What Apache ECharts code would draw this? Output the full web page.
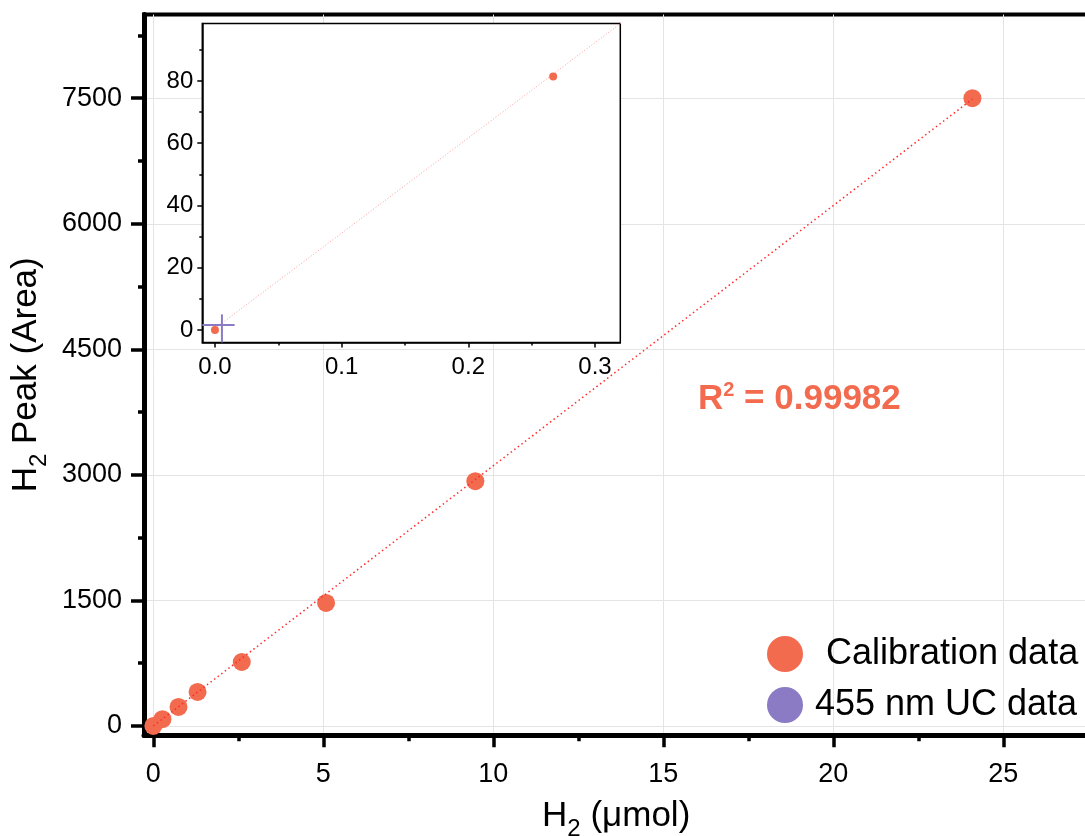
<!DOCTYPE html>
<html><head><meta charset="utf-8">
<script src="https://cdn.jsdelivr.net/npm/echarts@6/dist/echarts.min.js"></script>
<style>html,body{margin:0;padding:0;background:#fff}#c{width:1085px;height:836px}</style>
</head><body><div id="c"></div>
<script>
// ---- data ----
const calX = [0, 0.267, 0.74, 1.3, 2.6, 5.08, 9.47, 24.09];
const calY = [0, 81.4, 227, 406, 764, 1470, 2925, 7500];
const ucX = [0.0055];
const ucY = [1.6];
const ucXErrLow = [0.016], ucXErrHigh = [0.010];
const ucYErrLow = [6], ucYErrHigh = [3.4];
const fitMainX = [0, 24.09];
const fitMainY = [0, 7490];
const fitInsetX = [0, 0.33];
const fitInsetY = [0.5, 101.5];
const mainXTicks = [0, 5, 10, 15, 20, 25];
const mainXMinor = [2.5, 7.5, 12.5, 17.5, 22.5];
const mainYTicks = [0, 1500, 3000, 4500, 6000, 7500];
const mainYMinor = [750, 2250, 3750, 5250, 6750, 8250];
const insetXTicks = [0, 0.1, 0.2, 0.3];
const insetXMinor = [0.05, 0.15, 0.25];
const insetYTicks = [0, 20, 40, 60, 80];
const insetYMinor = [10, 30, 50, 70, 90];
const r2Value = '0.99982';
const legendNames = ['Calibration data', '455 nm UC data'];

const FONT = "'Liberation Sans', Arial, sans-serif";
const ORANGE = '#F36B4F';
const PURPLE = '#8A7BC4';

const pairs = (xs, ys) => xs.map((x, i) => [x, ys[i]]);

function majorAxis(grid, pos, min, max, ticks, opts) {
  return Object.assign({
    gridIndex: grid, type: 'value', position: pos, min: min, max: max,
    axisLine: { show: true, onZero: false, lineStyle: { color: '#000', width: opts.lw } },
    axisTick: { show: true, customValues: ticks, inside: false, length: opts.tl, lineStyle: { color: '#000', width: opts.tw } },
    axisLabel: { show: true, customValues: ticks, fontSize: opts.fs, color: '#000', fontFamily: FONT, margin: opts.margin,
      formatter: opts.fmt || (v => String(v)) },
    splitLine: { show: opts.grid, lineStyle: { color: '#e4e4e4', width: 1 } }
  }, opts.extra || {});
}
function minorAxis(grid, pos, min, max, ticks, opts) {
  return Object.assign({
    gridIndex: grid, type: 'value', position: pos, min: min, max: max,
    axisLine: { show: false, onZero: false },
    axisTick: { show: true, customValues: ticks, inside: false, length: opts.tl, lineStyle: { color: '#000', width: opts.tw } },
    axisLabel: { show: false },
    splitLine: { show: false }
  }, opts.extra || {});
}

const nameRich = {
  m: { fontSize: 35, lineHeight: 50, fontFamily: FONT, color: '#000' },
  s: { fontSize: 24, lineHeight: 24, verticalAlign: 'bottom', fontFamily: FONT, color: '#000' }
};

const chart = echarts.init(document.getElementById('c'), null, { renderer: 'canvas' });
const option = {
  animation: false,
  backgroundColor: '#fff',
  grid: [
    { left: 144, top: 14.5, width: 944.35, height: 720.66, show: true, borderColor: '#000', borderWidth: 4,
      backgroundColor: 'transparent', containLabel: false, outerBoundsMode: 'none' },
    { left: 202.3, top: 23.4, width: 418, height: 319, show: true, borderColor: '#000', borderWidth: 1.5,
      backgroundColor: '#fff', z: 5, containLabel: false, outerBoundsMode: 'none' }
  ],
  xAxis: [
    majorAxis(0, 'bottom', -0.275, 27.5, mainXTicks, { lw: 5, tl: 12, tw: 3.5, fs: 27, margin: 26, grid: true,
      extra: { name: '{m|H}{s|2}{m| (\u03bcmol)}', nameLocation: 'middle', nameGap: 56, nameTextStyle: { rich: nameRich } } }),
    minorAxis(0, 'bottom', -0.275, 27.5, mainXMinor, { tl: 6, tw: 3.5 }),
    majorAxis(1, 'bottom', -0.01, 0.32, insetXTicks, { lw: 1.5, tl: 5, tw: 1.5, fs: 24, margin: 13, grid: false,
      fmt: v => v.toFixed(1), extra: { z: 6 } }),
    minorAxis(1, 'bottom', -0.01, 0.32, insetXMinor, { tl: 3, tw: 1.5, extra: { z: 6 } })
  ],
  yAxis: [
    majorAxis(0, 'left', -110, 8500, mainYTicks, { lw: 5, tl: 13, tw: 3.5, fs: 27, margin: 22, grid: true,
      extra: { name: '{m|H}{s|2}{m| Peak (Area)}', nameLocation: 'middle', nameGap: 92, nameTextStyle: { rich: nameRich } } }),
    minorAxis(0, 'left', -110, 8500, mainYMinor, { tl: 6, tw: 3.5 }),
    majorAxis(1, 'left', -4, 98.5, insetYTicks, { lw: 1.5, tl: 5, tw: 1.5, fs: 24, margin: 9, grid: false, extra: { z: 6 } }),
    minorAxis(1, 'left', -4, 98.5, insetYMinor, { tl: 3, tw: 1.5, extra: { z: 6 } })
  ],
  legend: {
    data: legendNames, orient: 'vertical', left: 767, top: 636, padding: 0,
    itemWidth: 36, itemHeight: 36, itemGap: 15, icon: 'circle',
    textStyle: { fontSize: 36, lineHeight: 36, color: '#000', fontFamily: FONT,
      rich: {
        c: { fontSize: 36, lineHeight: 36, color: '#000', fontFamily: FONT, padding: [0, 0, 0, 18] },
        d: { fontSize: 36, lineHeight: 36, color: '#000', fontFamily: FONT, padding: [0, 0, 0, 7] }
      } },
    formatter: n => (n === legendNames[0] ? '{c|' : '{d|') + n + '}'
  },
  graphic: [{
    type: 'text', left: 698, top: 380, z: 10,
    style: {
      text: '{r|R}{s|2}{r| = ' + r2Value + '}',
      rich: {
        r: { fontSize: 35, fontWeight: 'bold', fill: ORANGE, lineHeight: 38, fontFamily: FONT },
        s: { fontSize: 20, fontWeight: 'bold', fill: ORANGE, lineHeight: 20, verticalAlign: 'top', fontFamily: FONT }
      }
    }
  }],
  series: [
    { type: 'scatter', name: legendNames[1], xAxisIndex: 0, yAxisIndex: 0, data: pairs(ucX, ucY),
      symbolSize: 8, itemStyle: { color: PURPLE, opacity: 1 }, z: 2 },
    { type: 'scatter', name: legendNames[0], xAxisIndex: 0, yAxisIndex: 0, data: pairs(calX, calY),
      symbolSize: 18, itemStyle: { color: ORANGE, opacity: 1 }, z: 3 },
    { type: 'line', name: 'fit', xAxisIndex: 0, yAxisIndex: 0, data: pairs(fitMainX, fitMainY),
      symbol: 'none', silent: true, lineStyle: { color: '#ff2a2a', width: 1.5, type: [1.5, 3] }, z: 4 },
    { type: 'line', name: 'fit inset', xAxisIndex: 2, yAxisIndex: 2, data: pairs(fitInsetX, fitInsetY),
      symbol: 'none', silent: true, clip: true, lineStyle: { color: '#ff9c9c', width: 1, type: [1, 2] }, z: 7 },
    { type: 'scatter', name: 'cal inset', xAxisIndex: 2, yAxisIndex: 2, data: pairs(calX, calY), clip: true,
      symbolSize: 8, itemStyle: { color: ORANGE, opacity: 1 }, z: 8 },
    { type: 'custom', name: 'uc inset', xAxisIndex: 2, yAxisIndex: 2, z: 9,
      data: ucX.map((x, i) => [x, ucY[i], ucXErrLow[i], ucXErrHigh[i], ucYErrLow[i], ucYErrHigh[i]]),
      renderItem: function (params, api) {
        const cs = params.coordSys;
        const x = api.value(0), y = api.value(1);
        const c = api.coord([x, y]);
        const l = api.coord([x - api.value(2), y]);
        const r = api.coord([x + api.value(3), y]);
        const b = api.coord([x, y - api.value(4)]);
        const t = api.coord([x, y + api.value(5)]);
        const cx = v => Math.max(cs.x, Math.min(cs.x + cs.width, v));
        const cy = v => Math.max(cs.y, Math.min(cs.y + cs.height, v));
        return { type: 'group', children: [
          { type: 'line', shape: { x1: cx(l[0]), y1: c[1], x2: cx(r[0]), y2: c[1] }, style: { stroke: PURPLE, lineWidth: 2 } },
          { type: 'line', shape: { x1: c[0], y1: cy(b[1]), x2: c[0], y2: cy(t[1]) }, style: { stroke: PURPLE, lineWidth: 2 } }
        ] };
      } }
  ]
};
chart.setOption(option);
</script>
</body></html>
